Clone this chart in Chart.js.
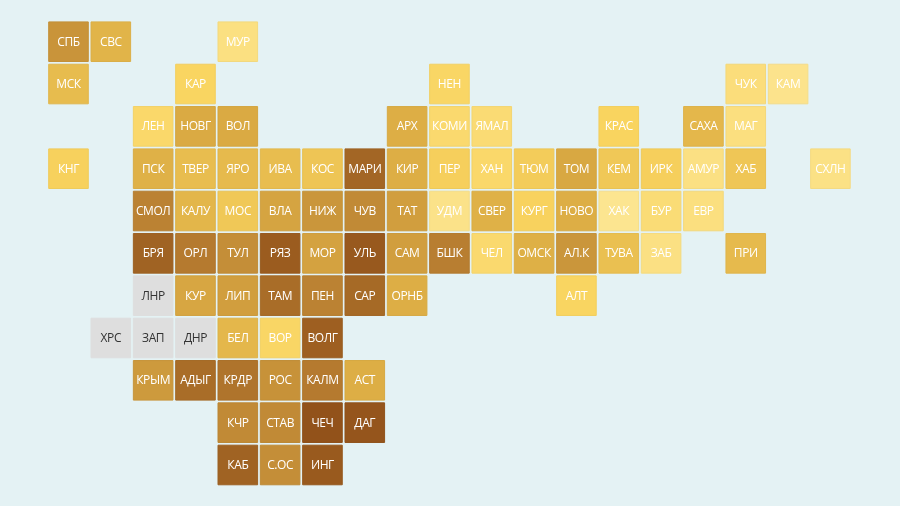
<!DOCTYPE html>
<html lang="ru">
<head>
<meta charset="utf-8">
<title>Плитка регионов</title>
<script src="https://cdn.jsdelivr.net/npm/chart.js@4"></script>
<style>
    html, body { margin: 0; padding: 0; background: #e4f2f4; }
    canvas { display: block; }
</style>
</head>
<body>
<canvas id="tiles" width="900" height="506"></canvas>
<script>
// Tile grid map of Russian regions, one square per region
const regions = [
    'СПБ','СВС','МУР',
    'МСК','КАР','НЕН','ЧУК','КАМ',
    'ЛЕН','НОВГ','ВОЛ','АРХ','КОМИ','ЯМАЛ','КРАС','САХА','МАГ',
    'КНГ','ПСК','ТВЕР','ЯРО','ИВА','КОС','МАРИ','КИР','ПЕР','ХАН','ТЮМ','ТОМ','КЕМ','ИРК','АМУР','ХАБ','СХЛН',
    'СМОЛ','КАЛУ','МОС','ВЛА','НИЖ','ЧУВ','ТАТ','УДМ','СВЕР','КУРГ','НОВО','ХАК','БУР','ЕВР',
    'БРЯ','ОРЛ','ТУЛ','РЯЗ','МОР','УЛЬ','САМ','БШК','ЧЕЛ','ОМСК','АЛ.К','ТУВА','ЗАБ','ПРИ',
    'ЛНР','КУР','ЛИП','ТАМ','ПЕН','САР','ОРНБ','АЛТ',
    'ХРС','ЗАП','ДНР','БЕЛ','ВОР','ВОЛГ',
    'КРЫМ','АДЫГ','КРДР','РОС','КАЛМ','АСТ',
    'КЧР','СТАВ','ЧЕЧ','ДАГ',
    'КАБ','С.ОС','ИНГ'
];
const columns = [
    0,1,4,
    0,3,9,16,17,
    2,3,4,8,9,10,13,15,16,
    0,2,3,4,5,6,7,8,9,10,11,12,13,14,15,16,18,
    2,3,4,5,6,7,8,9,10,11,12,13,14,15,
    2,3,4,5,6,7,8,9,10,11,12,13,14,16,
    2,3,4,5,6,7,8,12,
    1,2,3,4,5,6,
    2,3,4,5,6,7,
    4,5,6,7,
    4,5,6
];
const rowSizes = [3, 5, 9, 17, 14, 14, 8, 6, 6, 4, 3];
// shade index, 0 lightest to 100 darkest, null = no data
const values = [
    63,46,9,
    41,24,22,12,4,
    20,52,52,50,18,15,25,44,10,
    27,48,40,42,40,35,88,50,28,20,30,53,33,28,8,34,7,
    72,45,33,55,62,68,58,5,48,26,50,2,14,10,
    90,76,66,94,56,96,58,74,18,49,62,38,8,42,
    null,54,58,84,72,86,50,24,
    null,null,null,44,22,92,
    60,84,80,64,76,50,
    68,68,100,98,
    90,66,95
];
const shadeStops = [0, 25, 50, 75, 100];
const shadeColors = [[252,230,148],[249,212,95],[221,174,69],[182,124,48],[146,82,26]];

const rows = [];
rowSizes.forEach((n, r) => { for (let i = 0; i < n; i++) rows.push(r); });

function shade(v, k) {
    if (v === null) return 'rgb(222,222,222)';
    let i = 0;
    while (i < shadeStops.length - 2 && v > shadeStops[i + 1]) i++;
    const t = (v - shadeStops[i]) / (shadeStops[i + 1] - shadeStops[i]);
    const c = shadeColors[i].map((a, j) => Math.round((a + (shadeColors[i + 1][j] - a) * t) * k));
    return 'rgb(' + c.join(',') + ')';
}

const tileLabels = {
    id: 'tileLabels',
    afterDatasetsDraw(chart) {
        const ctx = chart.ctx;
        ctx.save();
        ctx.font = '12px "Open Sans"';
        ctx.letterSpacing = '-0.4px';
        ctx.textAlign = 'center';
        ctx.textBaseline = 'middle';
        chart.getDatasetMeta(0).data.forEach((pt, i) => {
            ctx.fillStyle = values[i] === null ? '#333333' : '#ffffff';
            ctx.fillText(regions[i], pt.x, pt.y + 0.5);
        });
        ctx.restore();
    }
};

new Chart(document.getElementById('tiles'), {
    type: 'scatter',
    data: {
        datasets: [{
            data: regions.map((_, i) => ({ x: columns[i], y: rows[i] })),
            pointStyle: 'rect',
            pointRadius: 28,
            pointBorderWidth: 1,
            pointBackgroundColor: values.map(v => shade(v, 1)),
            pointBorderColor: values.map(v => shade(v, 0.97))
        }]
    },
    options: {
        responsive: false,
        animation: false,
        layout: { padding: 0, autoPadding: false },
        plugins: { legend: { display: false }, tooltip: { enabled: false } },
        scales: {
            x: { type: 'linear', display: false, min: -1.618, max: 19.644 },
            y: { type: 'linear', display: false, reverse: true, min: -0.985, max: 10.969 }
        }
    },
    plugins: [tileLabels]
});
</script>
</body>
</html>
